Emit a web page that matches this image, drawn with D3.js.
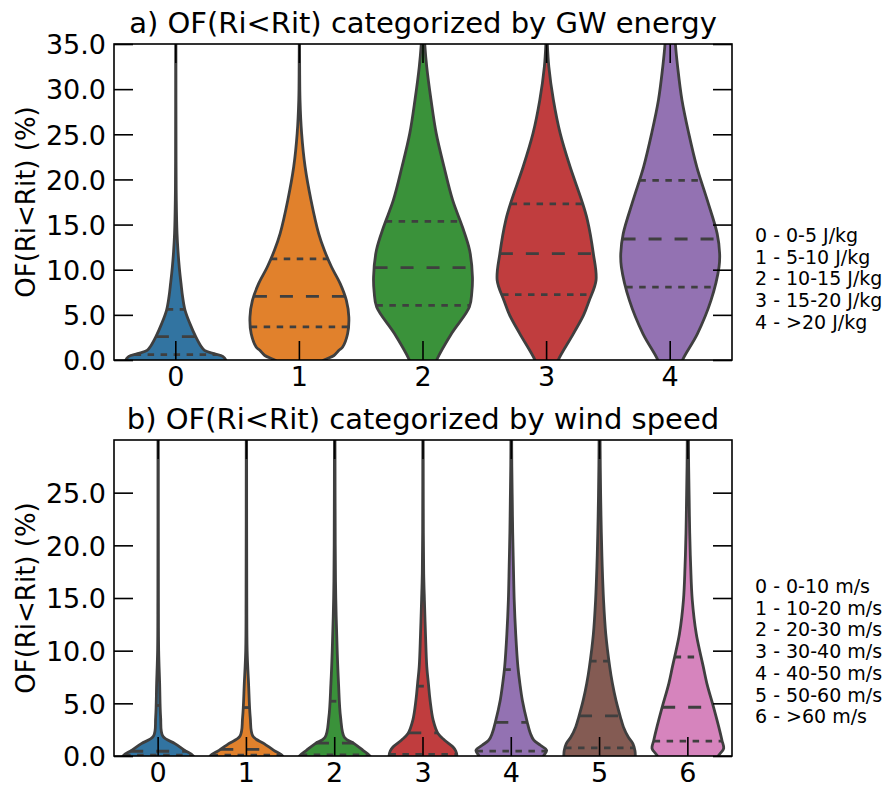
<!DOCTYPE html>
<html>
<head>
<meta charset="utf-8">
<script src="https://cdn.jsdelivr.net/npm/d3@7"></script>
<style>
  body { margin: 0; background: #fff; }
  text { font-family: "DejaVu Sans", sans-serif; fill: #000; }
</style>
</head>
<body>
<svg id="chart" width="885" height="787"></svg>
<script>
// ---- data ----
// panel a: GW energy classes
const gwCategories = ['0', '1', '2', '3', '4'];
const gwLegend = ['0 - 0-5 J/kg', '1 - 5-10 J/kg', '2 - 10-15 J/kg', '3 - 15-20 J/kg', '4 - >20 J/kg'];
const gwTicks = [0, 5, 10, 15, 20, 25, 30, 35];

// violin outlines: [OF value (%), half width in category units]
const gw0 = [[-1, 0.41], [0, 0.405], [0.4, 0.38], [0.7, 0.31], [1.07, 0.232], [1.6, 0.2], [2.55, 0.162], [4, 0.115], [5.5, 0.075], [7, 0.055], [8.5, 0.042], [10.3, 0.028], [12, 0.018], [14, 0.01], [17.7, 0.004], [22, 0.002], [36, 0.001]];
const gw1 = [[-0.5, 0.15], [0, 0.2], [0.5, 0.28], [1.07, 0.32], [1.44, 0.35], [2.9, 0.39], [4.76, 0.40], [6.6, 0.38], [8.46, 0.33], [10.3, 0.26], [12.15, 0.202], [14, 0.156], [17.7, 0.094], [21.4, 0.046], [25.1, 0.018], [28.8, 0.005], [32.5, 0.002], [36, 0.001]];
const gw2 = [[-1, 0.08], [0, 0.11], [2.9, 0.23], [5.87, 0.375], [7.5, 0.395], [9.2, 0.40], [12.15, 0.377], [14.7, 0.32], [17.7, 0.24], [21.4, 0.17], [25.1, 0.107], [28.8, 0.065], [32.5, 0.03], [35, 0.014], [36, 0.01]];
const gw3 = [[-1, 0.07], [0, 0.094], [2.9, 0.216], [5, 0.3], [6.6, 0.345], [8.83, 0.40], [11.8, 0.378], [15.5, 0.33], [17.7, 0.283], [21.4, 0.19], [25.1, 0.11], [28.8, 0.055], [32.5, 0.018], [35, 0.006], [36, 0.004]];
const gw4 = [[-1, 0.08], [0, 0.10], [2.9, 0.22], [6.6, 0.33], [10.3, 0.395], [11.8, 0.40], [14, 0.38], [17.7, 0.30], [21.4, 0.215], [25.1, 0.15], [28.8, 0.095], [32.5, 0.06], [35, 0.042], [36, 0.038]];
const gwShapes = [gw0, gw1, gw2, gw3, gw4];
// [lower quartile, median, upper quartile]
const gwQuartiles = [[0.6, 2.58, 5.6], [3.66, 7.05, 11.2], [6.06, 10.23, 15.36], [7.24, 11.78, 17.3], [8.08, 13.4, 19.9]];

// panel b: wind speed classes
const windCategories = ['0', '1', '2', '3', '4', '5', '6'];
const windLegend = ['0 - 0-10 m/s', '1 - 10-20 m/s', '2 - 20-30 m/s', '3 - 30-40 m/s', '4 - 40-50 m/s', '5 - 50-60 m/s', '6 - >60 m/s'];
const windTicks = [0, 5, 10, 15, 20, 25];

const wind0 = [[-0.5, 0.42], [0, 0.40], [0.54, 0.30], [1.18, 0.19], [1.87, 0.054], [3.7, 0.028], [6.9, 0.017], [10, 0.006], [15, 0.003], [31, 0.002]];
const wind1 = [[-0.5, 0.42], [0, 0.41], [0.54, 0.31], [1.18, 0.20], [1.87, 0.074], [3.7, 0.043], [6.9, 0.024], [10, 0.008], [15, 0.004], [31, 0.002]];
const wind2 = [[-0.5, 0.42], [0, 0.40], [0.54, 0.32], [1.18, 0.22], [1.75, 0.111], [3.7, 0.066], [6.9, 0.043], [10, 0.028], [15, 0.012], [20, 0.006], [31, 0.003]];
const wind3 = [[-0.5, 0.37], [0, 0.385], [0.5, 0.37], [0.86, 0.34], [1.5, 0.245], [2.13, 0.17], [3.4, 0.115], [5.3, 0.08], [6.9, 0.061], [8.46, 0.043], [11.6, 0.028], [14.8, 0.016], [17.3, 0.008], [21.2, 0.004], [31, 0.002]];
const wind4 = [[-0.5, 0.33], [0.07, 0.37], [0.54, 0.40], [1.02, 0.33], [1.5, 0.255], [2.13, 0.217], [3.23, 0.18], [5.3, 0.125], [6.9, 0.097], [8.46, 0.075], [11.6, 0.05], [14.8, 0.033], [18, 0.024], [21.2, 0.016], [24.3, 0.011], [27.5, 0.006], [31, 0.004]];
const wind5 = [[-0.5, 0.40], [0.07, 0.405], [0.54, 0.40], [1.18, 0.377], [1.8, 0.325], [2.76, 0.27], [3.7, 0.236], [5.3, 0.185], [6.9, 0.145], [8.46, 0.115], [11.6, 0.07], [14.8, 0.045], [18, 0.03], [21.2, 0.02], [24.3, 0.013], [27.5, 0.008], [31, 0.005]];
const wind6 = [[-0.5, 0.32], [0.07, 0.35], [0.7, 0.405], [1.5, 0.386], [2.76, 0.35], [4.66, 0.29], [6.9, 0.215], [8.46, 0.175], [9.4, 0.15], [11.6, 0.095], [14.8, 0.05], [18, 0.032], [21.2, 0.021], [24.3, 0.015], [27.5, 0.009], [31, 0.006]];
const windShapes = [wind0, wind1, wind2, wind3, wind4, wind5, wind6];
const windQuartiles = [[0.08, 0.45, 4.8], [0.08, 0.62, 4.6], [0.1, 1.22, 5.2], [0.15, 2.2, 6.63], [0.46, 3.2, 8.2], [0.78, 3.8, 9.0], [1.42, 4.63, 9.4]];

// seaborn-desaturated tab10
const violinColors = ['#3274a1', '#e1812c', '#3a923a', '#c03d3e', '#9372b2', '#845b53', '#d684bd'];

// ---- layout ----
const svg = d3.select('#chart');
svg.append('rect').attr('width', 885).attr('height', 787).attr('fill', '#fff');

const plotLeft = 114, plotRight = 732;
const edgeColor = '#3f3f3f';
const tickLen = 19;

// width of the violin at a given value
function halfAt(shape, v) {
    const i = d3.bisector(d => d[0]).left(shape, v);
    if (i <= 0) return shape[0][1];
    if (i >= shape.length) return shape[shape.length - 1][1];
    const a = shape[i - 1], b = shape[i];
    const t = (v - a[0]) / (b[0] - a[0]);
    return a[1] + t * (b[1] - a[1]);
}

function drawPanel(opts) {
    const { id, top, bottom, yMax, categories, shapes, quartiles, ticks, title, titleY, legend, legendY } = opts;

    const x = d3.scaleBand().domain(categories).range([plotLeft, plotRight]).padding(0);
    const y = d3.scaleLinear().domain([0, yMax]).range([bottom, top]);
    const bw = x.bandwidth();
    const cx = c => x(c) + bw / 2;

    svg.append('clipPath').attr('id', 'clip-' + id)
        .append('rect')
        .attr('x', plotLeft).attr('y', top)
        .attr('width', plotRight - plotLeft).attr('height', bottom - top);

    const g = svg.append('g').attr('clip-path', `url(#clip-${id})`);

    const area = d3.area()
        .curve(d3.curveCatmullRom.alpha(0.5));

    // violins
    categories.forEach((c, i) => {
        const shape = shapes[i];
        area.y(d => y(d[0]))
            .x0(d => cx(c) - d[1] * bw)
            .x1(d => cx(c) + d[1] * bw);
        g.append('path')
            .attr('d', area(shape))
            .attr('fill', violinColors[i])
            .attr('stroke', edgeColor)
            .attr('stroke-width', 2.8)
            .attr('stroke-linejoin', 'round');

        // quartile lines (median long dashes, quartiles short)
        quartiles[i].forEach((q, k) => {
            const hw = halfAt(shape, q) * bw;
            g.append('line')
                .attr('x1', cx(c) - hw).attr('x2', cx(c) + hw)
                .attr('y1', y(q)).attr('y2', y(q))
                .attr('stroke', edgeColor)
                .attr('stroke-width', 2.8)
                .attr('stroke-dasharray', k === 1 ? '13,13' : '6.5,6.5');
        });
    });

    // frame
    svg.append('rect')
        .attr('x', plotLeft).attr('y', top)
        .attr('width', plotRight - plotLeft).attr('height', bottom - top)
        .attr('fill', 'none').attr('stroke', '#000').attr('stroke-width', 1.6);

    // inward ticks on all four sides
    const axL = d3.axisLeft(y).tickValues(ticks).tickSizeInner(-tickLen).tickSizeOuter(0)
        .tickFormat(d3.format('.1f'));
    const gl = svg.append('g').attr('transform', `translate(${plotLeft},0)`).call(axL);
    gl.select('.domain').remove();
    gl.selectAll('text').attr('x', -8).attr('dy', '0.36em')
        .style('font-size', '27px').style('font-family', '"DejaVu Sans", sans-serif').attr('fill', '#000');

    const axR = d3.axisRight(y).tickValues(ticks).tickSizeInner(-tickLen).tickSizeOuter(0).tickFormat('');
    const gr = svg.append('g').attr('transform', `translate(${plotRight},0)`).call(axR);
    gr.select('.domain').remove();

    const axB = d3.axisBottom(x).tickSizeInner(-tickLen).tickSizeOuter(0);
    const gb = svg.append('g').attr('transform', `translate(0,${bottom})`).call(axB);
    gb.select('.domain').remove();
    gb.selectAll('text').attr('y', 26).attr('dy', null)
        .style('font-size', '27px').style('font-family', '"DejaVu Sans", sans-serif').attr('fill', '#000');

    const axT = d3.axisTop(x).tickSizeInner(-tickLen).tickSizeOuter(0).tickFormat('');
    const gt = svg.append('g').attr('transform', `translate(0,${top})`).call(axT);
    gt.select('.domain').remove();

    svg.selectAll('.tick line').attr('stroke', '#000').attr('stroke-width', 1.6);

    // y label
    svg.append('text')
        .attr('transform', `translate(35,${(top + bottom) / 2}) rotate(-90)`)
        .attr('text-anchor', 'middle')
        .style('font-size', '26px')
        .text('OF(Ri<Rit) (%)');

    // title
    svg.append('text')
        .attr('x', (plotLeft + plotRight) / 2)
        .attr('y', titleY)
        .attr('text-anchor', 'middle')
        .style('font-size', '29px')
        .text(title);

    // class legend at right
    svg.append('g').selectAll('text')
        .data(legend)
        .join('text')
        .attr('x', 755)
        .attr('y', (d, i) => legendY + i * 21.7)
        .style('font-size', '19px')
        .text(d => d);
}

drawPanel({
    id: 'a', top: 44, bottom: 360, yMax: 35,
    categories: gwCategories, shapes: gwShapes, quartiles: gwQuartiles,
    ticks: gwTicks,
    title: 'a) OF(Ri<Rit) categorized by GW energy', titleY: 33,
    legend: gwLegend, legendY: 242
});

drawPanel({
    id: 'b', top: 440, bottom: 756, yMax: 30,
    categories: windCategories, shapes: windShapes, quartiles: windQuartiles,
    ticks: windTicks,
    title: 'b) OF(Ri<Rit) categorized by wind speed', titleY: 429,
    legend: windLegend, legendY: 593
});
</script>
</body>
</html>
